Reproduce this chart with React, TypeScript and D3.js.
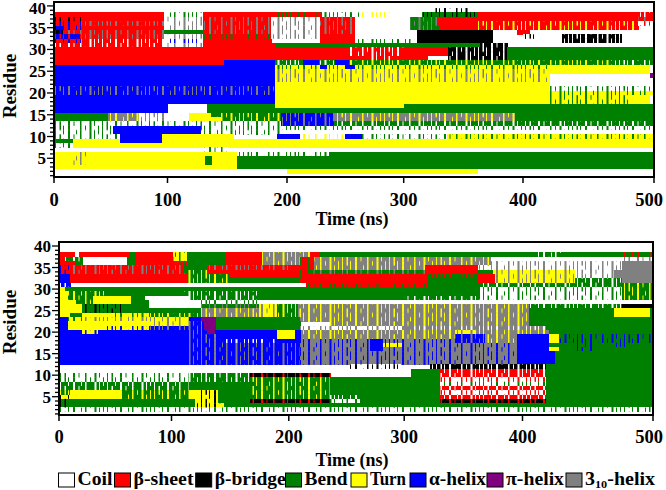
import * as d3 from 'd3';
import React from 'react';

// DSSP states, legend order.
const stateCodes = ['C', 'E', 'B', 'S', 'T', 'H', 'I', 'G'];
const stateLabels = ['Coil', 'β-sheet', 'β-bridge', 'Bend', 'Turn', 'α-helix', 'π-helix', '3-helix'];
const stateColors: Record<string, string> = {
    C: '#ffffff',
    E: '#ff0000',
    B: '#000000',
    S: '#008000',
    T: '#ffff00',
    H: '#0000ff',
    I: '#800080',
    G: '#808080',
};

const timeTicks = [0, 100, 200, 300, 400, 500];
const residueTicks = [5, 10, 15, 20, 25, 30, 35, 40];

// Each row: residue, then "state:end" runs in ns (start = previous end).
// Two letters = first state with frequent flickers into the second.
const topRows: [number, string][] = [
    [39, 'C:325 CB:355 C:500'],
    [38, 'E:97 CS:130 E:185 ES:230 CS:262 CT:290 C:315 SB:362 E:488 EC:500'],
    [37, 'EY:24 E:97 CG:130 EG:187 CG:228 EG:258 C:305 SG:328 E:488 EG:500'],
    [36, 'EH:24 EG:97 CG:130 EG:187 CG:228 EG:258 C:305 SG:328 E:362 ET:488 CE:500'],
    [35, 'HY:8 EH:24 E:97 CG:130 EG:187 CG:228 EG:258 C:305 SG:330 E:362 ET:488 C:500'],
    [34, 'YH:8 EG:97 S:130 EG:187 CG:228 EG:258 C:311 B:375 C:395 E:405 C:500'],
    [33, 'HE:24 EG:97 CG:130 ES:187 CG:228 E:258 C:311 B:375 C:400 CB:410 C:430 BC:475 C:500'],
    [32, 'EH:24 EC:97 CH:130 E:187 C:228 E:258 CS:311 B:375 C:430 BC:475 C:500'],
    [31, 'EC:97 CG:130 E:190 S:364 BC:387 C:500'],
    [30, 'E:253 EC:300 E:337 BC:387 S:500'],
    [29, 'E:253 EC:300 E:337 BC:387 S:500'],
    [28, 'E:270 EC:290 E:320 C:337 BC:387 S:500'],
    [27, 'E:147 H:190 SC:214 H:227 SC:241 H:253 ST:470 SC:500'],
    [26, 'H:190 TS:228 H:234 TS:250 H:258 TS:420 T:497 C:500'],
    [25, 'H:190 TG:420 T:497'],
    [24, 'H:190 TG:420 C:497 I:500'],
    [23, 'H:190 TG:420 C:497'],
    [22, 'H:190 T:420 C:497'],
    [21, 'HG:190 T:420 CS:497'],
    [20, 'HG:190 T:420 TS:500'],
    [19, 'H:190 T:420 TS:480 T:497'],
    [18, 'H:190 T:420 TS:480 T:497'],
    [17, 'H:100 C:133 S:190 T:300 S:500'],
    [16, 'H:100 C:133 S:500'],
    [15, 'S:48 GT:75 CG:97 C:118 T:135 ST:195 HG:240 GT:393 S:500'],
    [14, 'S:48 GT:75 CG:97 C:118 T:145 ST:195 HG:240 GT:393 S:500'],
    [13, 'CS:195 HG:240 SC:500'],
    [12, 'CS:52 H:128 CS:500'],
    [11, 'CS:52 H:128 CS:195 C:500'],
    [10, 'CS:58 H:95 T:155 C:192 H:211 CT:250 H:264 CS:336 TS:500'],
    [9, 'S:17 T:58 H:95 T:500'],
    [8, 'CS:17 T:500'],
    [7, 'C:130 CS:150 C:500'],
    [6, 'T:14 TG:30 T:158 CS:236 S:500'],
    [5, 'T:14 TG:30 T:131 S:137 T:158 S:500'],
    [4, 'T:14 TG:30 T:131 S:137 T:158 S:500'],
    [3, 'T:158 S:500'],
    [2, 'C:200 T:362 C:500'],
];

const bottomRows: [number, string][] = [
    [38, 'E:14 C:18 E:62 S:68 E:101 TS:113 S:146 E:177 GT:218 E:226 S:410 SC:430 S:476 SE:500'],
    [37, 'E:5 SC:21 C:60 S:68 E:101 TS:113 S:146 E:177 GT:210 ES:222 GT:373 C:476 CG:500'],
    [36, 'E:14 SC:21 C:60 S:68 E:101 ES:113 S:146 E:177 GT:210 ES:222 GT:373 CG:476 G:500'],
    [35, 'EH:10 EG:110 S:130 EG:200 ES:222 GT:318 E:362 CG:476 G:500'],
    [34, 'EH:10 EG:110 ST:130 E:200 ES:218 SG:318 E:362 S:375 TG:440 CG:470 G:500'],
    [33, 'H:10 E:113 ST:150 E:210 ES:215 E:320 SE:362 E:377 TG:440 CG:470 G:500'],
    [32, 'H:10 E:113 ST:150 S:210 ES:215 E:320 S:362 E:377 TG:440 SC:476 G:500'],
    [31, 'HC:10 C:215 ES:320 S:364 SC:476 ST:500'],
    [30, 'T:5 S:364 CS:476 ST:500'],
    [29, 'T:8 ST:40 S:110 SC:175 S:364 CS:476 ST:500'],
    [28, 'T:8 ST:30 T:64 S:76 C:115 SC:175 S:300 SC:364 CS:476 ST:500'],
    [27, 'T:15 ST:30 T:64 S:80 C:125 CS:175 C:500'],
    [26, 'T:20 SB:55 S:80 C:125 SG:175 TG:190 ST:208 GT:405 SC:476 B:500'],
    [25, 'T:20 SB:55 S:125 GT:175 TG:190 ST:208 GT:405 S:470 T:498 S:500'],
    [24, 'T:10 S:20 T:50 TS:80 ST:125 GT:175 TG:190 ST:208 GT:405 S:470 T:498 S:500'],
    [23, 'H:8 TS:20 TG:115 H:125 I:138 S:210 GT:405 S:500'],
    [22, 'H:8 T:80 TG:115 HG:128 I:138 S:210 C:236 GT:405 S:500'],
    [21, 'H:8 T:40 TH:80 HG:128 I:138 S:210 CG:300 GC:418 S:500'],
    [20, 'H:20 TH:35 H:115 HG:130 I:137 H:190 T:205 H:211 GT:343 TG:360 GT:420 S:500'],
    [19, 'H:115 HG:138 H:190 T:205 H:211 GT:343 HG:368 GT:395 H:420 T:428 SH:500'],
    [18, 'H:115 HG:138 HC:190 H:211 GH:270 H:282 GH:343 HG:368 GT:395 H:420 T:428 SH:500'],
    [17, 'H:115 HG:210 GH:270 H:282 TH:300 GH:395 H:420 S:440 SH:455 S:470 SH:480 S:500'],
    [16, 'H:115 HG:210 GH:270 H:282 GH:395 H:420 T:428 S:440 SH:455 S:500'],
    [15, 'H:115 HG:210 GH:395 H:425 S:500'],
    [14, 'H:115 HG:210 GH:395 H:425 S:500'],
    [13, 'H:115 HG:210 GH:395 H:425 S:500'],
    [12, 'C:253 CB:297 C:322 BC:418 S:500'],
    [11, 'C:306 S:330 EC:418 S:500'],
    [10, 'CS:115 SC:167 BE:236 C:306 S:330 EC:418 S:500'],
    [9, 'CS:115 SC:167 ST:236 S:330 CE:418 S:500'],
    [8, 'SC:115 S:167 ST:236 S:330 CS:418 S:500'],
    [7, 'SC:115 S:167 ST:236 S:330 EC:418 S:500'],
    [6, 'ST:10 T:55 ST:115 T:125 TB:140 S:167 ST:236 S:330 CE:418 S:500'],
    [5, 'TB:10 T:55 ST:115 T:125 TB:140 S:167 ST:236 SC:262 S:330 EC:418 S:500'],
    [4, 'SB:12 S:120 TB:140 S:167 BE:236 CS:262 S:330 BE:418 S:500'],
    [3, 'SB:8 S:120 TB:145 S:500'],
    [2, 'CS:500'],
];

// Texture for flickering runs: vertical stripes [x, width, sub-rows covered]
// in a tile that is three residue rows high.
const STRIPE_W = 47;
const STRIPES: [number, number, number[]][] = [
    [1, 1, [0, 1, 2]],
    [5.5, 1.5, [0, 1]],
    [9, 1, [1, 2]],
    [14, 2, [0, 1, 2]],
    [19.5, 1, [0]],
    [22, 1, [2]],
    [26, 1.5, [0, 1, 2]],
    [31, 1, [1]],
    [35.5, 2, [0, 1, 2]],
    [40, 1, [0, 2]],
    [44, 1, [1, 2]],
];

const FONT = '"Liberation Serif", "Times New Roman", serif';

type Seg = { r: number; code: string; start: number; end: number };

const parseRows = (rows: [number, string][]): Seg[] =>
    rows.flatMap(([r, spec]) => {
        let start = 0;
        return spec.split(' ').map((tok) => {
            const [code, e] = tok.split(':');
            const seg = { r, code, start, end: +e };
            start = +e;
            return seg;
        });
    });

type PanelProps = {
    id: string;
    rows: [number, string][];
    xPx: number[];
    yDomain: [number, number];
    yRange: [number, number];
    tickLabelY: number;
    titleY: number;
    residueY: number;
};

const Panel = ({ id, rows, xPx, yDomain, yRange, tickLabelY, titleY, residueY }: PanelProps) => {
    const x = d3.scaleLinear().domain(timeTicks).range(xPx);
    const y = d3.scaleLinear().domain(yDomain).range(yRange);
    const rowH = y(0) - y(1);
    const segs = parseRows(rows);
    const mixes = Array.from(new Set(segs.filter((s) => s.code.length > 1).map((s) => s.code)));
    const x0 = x(0);
    const x1 = x(500);
    const yTop = y(yDomain[1]);
    const yBot = y(yDomain[0]);

    return (
        <g>
            <defs>
                {mixes.map((m) => (
                    <pattern
                        key={m}
                        id={`${id}-${m}`}
                        patternUnits="userSpaceOnUse"
                        x={x0}
                        y={y(40.5)}
                        width={STRIPE_W}
                        height={rowH * 3}
                    >
                        <rect width={STRIPE_W} height={rowH * 3} fill={stateColors[m[0]]} />
                        {STRIPES.flatMap(([sx, w, subs], j) =>
                            subs.map((i) => (
                                <rect
                                    key={`${j}-${i}`}
                                    x={sx}
                                    y={i * rowH}
                                    width={w}
                                    height={rowH + 0.2}
                                    fill={stateColors[m[1]]}
                                />
                            )),
                        )}
                    </pattern>
                ))}
            </defs>

            {/* residue x time cells */}
            <g shapeRendering="crispEdges">
                {segs
                    .filter((s) => s.code !== 'C')
                    .map((s, i) => (
                        <rect
                            key={i}
                            x={x(s.start)}
                            y={y(s.r + 0.5)}
                            width={x(s.end) - x(s.start) + 0.3}
                            height={rowH + 0.3}
                            fill={s.code.length > 1 ? `url(#${id}-${s.code})` : stateColors[s.code]}
                        />
                    ))}
            </g>

            {/* frame */}
            <rect x={x0} y={yTop} width={x1 - x0} height={yBot - yTop} fill="none" stroke="#000" strokeWidth={2} />

            {/* left axis */}
            {d3.range(1, 41).map((v) => (
                <line
                    key={`m${v}`}
                    x1={x0 - (v % 5 === 0 ? 7 : 4)}
                    x2={x0}
                    y1={y(v)}
                    y2={y(v)}
                    stroke="#000"
                    strokeWidth={1.3}
                />
            ))}
            {residueTicks.map((v) => (
                <text
                    key={`yl${v}`}
                    x={x0 - 8}
                    y={Math.max(y(v) + 6, 13.5)}
                    textAnchor="end"
                    fontFamily={FONT}
                    fontWeight="bold"
                    fontSize={17}
                >
                    {v}
                </text>
            ))}
            <text
                transform={`translate(16, ${residueY}) rotate(-90)`}
                textAnchor="middle"
                fontFamily={FONT}
                fontWeight="bold"
                fontSize={19}
            >
                Residue
            </text>

            {/* bottom axis */}
            {timeTicks.map((t) => (
                <g key={`x${t}`}>
                    <line x1={x(t)} x2={x(t)} y1={yBot} y2={yBot + 6} stroke="#000" strokeWidth={1.5} />
                    <text
                        x={Math.min(x(t), 649)}
                        y={tickLabelY}
                        textAnchor="middle"
                        fontFamily={FONT}
                        fontWeight="bold"
                        fontSize={18.5}
                    >
                        {t}
                    </text>
                </g>
            ))}
            <text x={352} y={titleY} textAnchor="middle" fontFamily={FONT} fontWeight="bold" fontSize={18}>
                Time (ns)
            </text>
        </g>
    );
};

const legendX = [58.5, 114.5, 195.7, 285.5, 351, 410, 487, 566];
const legendTextW = [35, 60, 71, 43, 36, 57, 58, 70];

const App = (): React.ReactElement => {
    return (
        <div style={{ position: 'absolute', left: 0, top: 0 }}>
            <svg width={666} height={490} style={{ display: 'block', background: '#fff' }}>
                <Panel
                    id="top"
                    rows={topRows}
                    xPx={[54, 167.5, 287, 403.7, 523, 654]}
                    yDomain={[0.7, 40.9]}
                    yRange={[177, 2]}
                    tickLabelY={206}
                    titleY={225}
                    residueY={86}
                />
                <Panel
                    id="bot"
                    rows={bottomRows}
                    xPx={[59, 171.5, 288.8, 404.2, 522.5, 653]}
                    yDomain={[0.75, 40.93]}
                    yRange={[415, 242]}
                    tickLabelY={443}
                    titleY={466}
                    residueY={322}
                />

                {/* legend */}
                {stateCodes.map((c, i) => (
                    <g key={c}>
                        <rect
                            x={legendX[i]}
                            y={473}
                            width={16}
                            height={14}
                            fill={stateColors[c]}
                            stroke="#000"
                            strokeWidth={1}
                        />
                        <text
                            x={legendX[i] + 19}
                            y={485}
                            fontFamily={FONT}
                            fontWeight="bold"
                            fontSize={18}
                            textLength={legendTextW[i]}
                            lengthAdjust="spacingAndGlyphs"
                        >
                            {c === 'G' ? (
                                <>
                                    3
                                    <tspan fontSize={11} dy={3}>
                                        10
                                    </tspan>
                                    <tspan dy={-3}>-helix</tspan>
                                </>
                            ) : (
                                stateLabels[i]
                            )}
                        </text>
                    </g>
                ))}
            </svg>
        </div>
    );
};

export default App;
